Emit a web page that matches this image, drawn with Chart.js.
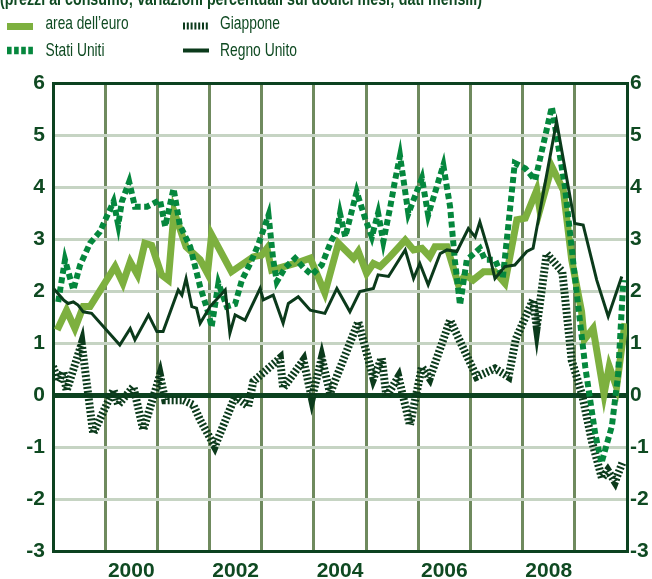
<!DOCTYPE html>
<html><head><meta charset="utf-8">
<script src="https://cdn.jsdelivr.net/npm/chart.js@4/dist/chart.umd.min.js"></script>
<style>html,body{margin:0;padding:0;background:#fff;}#wrap{width:652px;height:579px;}</style>
</head><body><div id="wrap"><canvas id="c" width="652" height="579"></canvas></div>
<script>
// ---- texts ----
const titleText = "(prezzi al consumo; variazioni percentuali sui dodici mesi; dati mensili)";
const seriesNames = ["area dell’euro", "Giappone", "Stati Uniti", "Regno Unito"];
const yearLabels = [2000, 2002, 2004, 2006, 2008];
const yTickValues = [-3, -2, -1, 0, 1, 2, 3, 4, 5, 6];

// ---- data (decimal year, percent) ----
const euroX = [1999.08,1999.26,1999.42,1999.58,1999.71,2000.19,2000.34,2000.48,2000.62,2000.76,2000.89,2001.08,2001.21,2001.32,2001.55,2001.82,2001.96,2002.04,2002.42,2002.84,2003.00,2003.10,2003.19,2003.64,2003.93,2004.21,2004.47,2004.76,2004.85,2005.01,2005.14,2005.27,2005.46,2005.75,2005.91,2006.07,2006.22,2006.32,2006.55,2006.77,2006.90,2007.05,2007.25,2007.47,2007.66,2007.89,2008.05,2008.27,2008.33,2008.56,2008.78,2008.94,2009.13,2009.18,2009.35,2009.56,2009.66,2009.80,2009.96];
const euroY = [1.25,1.63,1.28,1.70,1.70,2.47,2.15,2.56,2.31,2.92,2.88,2.31,2.21,3.53,2.85,2.60,2.34,3.08,2.37,2.66,2.69,2.82,2.40,2.53,2.63,1.96,2.92,2.63,2.76,2.34,2.53,2.47,2.66,2.98,2.79,2.82,2.66,2.85,2.85,2.12,2.31,2.21,2.37,2.37,2.15,3.37,3.40,3.94,3.56,4.39,3.94,2.60,1.60,1.06,1.28,0.02,0.55,0.15,1.38];

const japanX = [1999.00,1999.10,1999.20,1999.26,1999.55,1999.77,2000.16,2000.25,2000.54,2000.73,2001.05,2001.15,2001.50,2001.69,2001.82,2002.10,2002.49,2002.74,2002.84,2003.35,2003.41,2003.80,2003.96,2004.15,2004.31,2004.85,2005.14,2005.30,2005.39,2005.62,2005.84,2006.07,2006.22,2006.61,2007.12,2007.47,2007.73,2007.87,2008.20,2008.27,2008.46,2008.76,2008.94,2009.14,2009.33,2009.52,2009.63,2009.77,2009.92];
const japanY = [0.55,0.26,0.45,0.08,0.99,-0.74,0.10,-0.19,0.16,-0.67,0.38,-0.10,-0.10,-0.19,-0.48,-0.99,-0.03,-0.22,0.26,0.71,0.13,0.67,-0.06,0.71,0.03,1.41,0.32,0.71,-0.03,0.35,-0.58,0.54,0.32,1.44,0.35,0.51,0.35,1.08,1.83,1.31,2.72,2.37,0.67,0.00,-0.90,-1.60,-1.45,-1.67,-1.28];

const usX = [1999.10,1999.23,1999.39,1999.52,1999.71,1999.90,2000.16,2000.25,2000.32,2000.46,2000.57,2000.80,2001.05,2001.15,2001.31,2001.43,2001.63,2001.82,2001.98,2002.04,2002.17,2002.33,2002.49,2002.62,2002.78,2002.93,2003.13,2003.22,2003.29,2003.45,2003.64,2003.80,2003.96,2004.15,2004.34,2004.44,2004.50,2004.60,2004.82,2004.98,2005.11,2005.23,2005.33,2005.46,2005.55,2005.65,2005.81,2006.07,2006.19,2006.48,2006.61,2006.70,2006.80,2006.93,2007.18,2007.28,2007.47,2007.62,2007.85,2008.05,2008.24,2008.56,2008.81,2009.00,2009.20,2009.39,2009.51,2009.71,2009.83,2009.93];
const usY = [1.79,2.60,2.02,2.50,2.92,3.14,3.72,3.27,3.72,4.10,3.62,3.62,3.75,3.24,3.97,3.27,2.85,2.08,1.57,1.31,2.15,1.70,1.75,2.21,2.53,2.88,3.46,2.60,2.18,2.45,2.63,2.45,2.31,2.50,2.98,3.14,3.49,3.04,3.91,3.40,3.04,3.50,2.95,3.60,4.10,4.60,3.49,4.17,3.46,4.42,3.62,2.60,1.73,2.60,2.82,2.60,2.60,2.25,4.46,4.36,4.13,5.54,4.01,2.28,0.54,-0.74,-1.31,-0.60,0.40,2.21];

const ukX = [1999.01,1999.20,1999.29,1999.39,1999.48,1999.58,1999.74,2000.28,2000.48,2000.57,2000.83,2000.99,2001.11,2001.40,2001.47,2001.55,2001.66,2001.75,2001.82,2002.01,2002.30,2002.39,2002.49,2002.68,2002.97,2003.03,2003.22,2003.41,2003.51,2003.70,2003.93,2004.21,2004.44,2004.69,2004.88,2005.14,2005.23,2005.43,2005.75,2005.91,2006.03,2006.19,2006.42,2006.55,2006.74,2006.96,2007.09,2007.18,2007.34,2007.47,2007.66,2007.85,2008.08,2008.20,2008.65,2009.00,2009.16,2009.42,2009.64,2009.90];
const ukY = [2.05,1.83,1.76,1.79,1.73,1.60,1.57,0.96,1.28,1.06,1.54,1.22,1.22,2.02,1.92,2.24,1.70,1.67,1.38,1.70,2.02,1.19,1.54,1.44,2.05,1.83,1.92,1.38,1.76,1.89,1.63,1.57,2.05,1.60,1.99,2.05,2.31,2.28,2.79,2.24,2.53,2.12,2.72,2.79,2.76,3.20,3.04,3.33,2.79,2.24,2.47,2.50,2.76,2.82,5.26,3.30,3.27,2.21,1.51,2.28];

// ---- styling ----
const DARK = '#0c4220';
const TEXT = '#0f4a22';
const EURO_C = '#7db03f';
const US_C = '#05873d';
const JP_C = '#0b3a1b';
const UK_C = '#0b3a1b';
const VGRID = '#6f8a5e';
const HGRID = '#c6d4c3';
const FONT = '"Liberation Sans Narrow", "Arial Narrow", "Liberation Sans", Arial, sans-serif';

const pts = (xs, ys) => xs.map((x, i) => ({x: x, y: ys[i]}));
const xTickValues = [];
for (let v = 1999; v <= 2010; v += 0.5) xTickValues.push(v);

const overlay = {
  id: 'overlay',
  afterDraw(chart) {
    const ctx = chart.ctx;
    ctx.save();
    ctx.fillStyle = TEXT;
    ctx.font = 'bold 19px ' + FONT;
    ctx.textBaseline = 'alphabetic';
    ctx.textAlign = 'left';
    ctx.fillText(titleText, 0, 5, 482);
    // legend symbols
    ctx.fillStyle = EURO_C;
    ctx.fillRect(7, 23, 26, 7);
    ctx.fillStyle = UK_C;
    ctx.fillRect(183, 48.5, 26, 4);
    ctx.lineCap = 'butt';
    ctx.strokeStyle = JP_C; ctx.lineWidth = 7; ctx.setLineDash([2, 1.8]);
    ctx.beginPath(); ctx.moveTo(183, 26); ctx.lineTo(209.5, 26); ctx.stroke();
    ctx.strokeStyle = US_C; ctx.lineWidth = 7.5; ctx.setLineDash([4.6, 2.5]);
    ctx.beginPath(); ctx.moveTo(7, 50.5); ctx.lineTo(33.5, 50.5); ctx.stroke();
    ctx.setLineDash([]);
    ctx.fillStyle = TEXT;
    ctx.font = '18.5px ' + FONT;
    ctx.fillText(seriesNames[0], 45.5, 29, 83);
    ctx.fillText(seriesNames[1], 220, 29, 60);
    ctx.fillText(seriesNames[2], 45.5, 56, 59);
    ctx.fillText(seriesNames[3], 220, 56, 77);
    ctx.restore();
  }
};

new Chart(document.getElementById('c'), {
  type: 'line',
  data: {
    datasets: [
      {label: seriesNames[0], data: pts(euroX, euroY), borderColor: EURO_C, borderWidth: 7, order: 4},
      {label: seriesNames[1], data: pts(japanX, japanY), borderColor: JP_C, borderWidth: 8, borderDash: [2, 2], order: 3},
      {label: seriesNames[2], data: pts(usX, usY), borderColor: US_C, borderWidth: 6, borderDash: [6, 3.5], order: 2},
      {label: seriesNames[3], data: pts(ukX, ukY), borderColor: UK_C, borderWidth: 3, order: 1}
    ]
  },
  options: {
    responsive: false,
    animation: false,
    devicePixelRatio: 1,
    events: [],
    elements: {point: {radius: 0}, line: {tension: 0, fill: false, borderJoinStyle: 'miter', borderCapStyle: 'butt'}},
    layout: {padding: {top: 83, left: 0, right: 0, bottom: 0}},
    plugins: {legend: {display: false}, title: {display: false}, tooltip: {enabled: false}},
    scales: {
      x: {
        type: 'linear', position: 'bottom', min: 1999, max: 2010,
        afterBuildTicks: s => { s.ticks = xTickValues.map(v => ({value: v})); },
        afterFit: s => { s.height = 28; s.paddingLeft = 0; s.paddingRight = 0; },
        ticks: {
          autoSkip: false, maxRotation: 0, minRotation: 0, padding: 8, color: TEXT,
          font: {family: FONT, size: 21, weight: 'bold'},
          callback: v => yearLabels.includes(v - 0.5) ? String(v - 0.5) : ''
        },
        grid: {
          drawTicks: false,
          color: c => { const v = c.tick ? c.tick.value : 0; if (!Number.isInteger(v)) return 'rgba(0,0,0,0)'; return (v === 1999 || v === 2010) ? DARK : VGRID; },
          lineWidth: c => { const v = c.tick ? c.tick.value : 0; return Number.isInteger(v) ? 3 : 0; }
        },
        border: {display: true, color: DARK, width: 3}
      },
      y: {
        position: 'left', min: -3, max: 6,
        afterBuildTicks: s => { s.ticks = yTickValues.map(v => ({value: v})); },
        afterFit: s => { s.width = 53; s.paddingTop = 0; s.paddingBottom = 0; },
        ticks: {padding: 8, color: TEXT, font: {family: FONT, size: 21, weight: 'bold'}},
        grid: {
          drawTicks: false,
          color: c => { const v = c.tick ? c.tick.value : 1; return (v === 0 || v === 6 || v === -3) ? DARK : HGRID; },
          lineWidth: c => { const v = c.tick ? c.tick.value : 1; return v === 0 ? 5 : 3; }
        },
        border: {display: true, color: DARK, width: 3}
      },
      y2: {
        position: 'right', min: -3, max: 6,
        afterBuildTicks: s => { s.ticks = yTickValues.map(v => ({value: v})); },
        afterFit: s => { s.width = 25; s.paddingTop = 0; s.paddingBottom = 0; },
        ticks: {padding: 3, color: TEXT, font: {family: FONT, size: 21, weight: 'bold'}},
        grid: {display: false, drawTicks: false},
        border: {display: true, color: DARK, width: 3}
      }
    }
  },
  plugins: [overlay]
});
</script>
</body></html>
